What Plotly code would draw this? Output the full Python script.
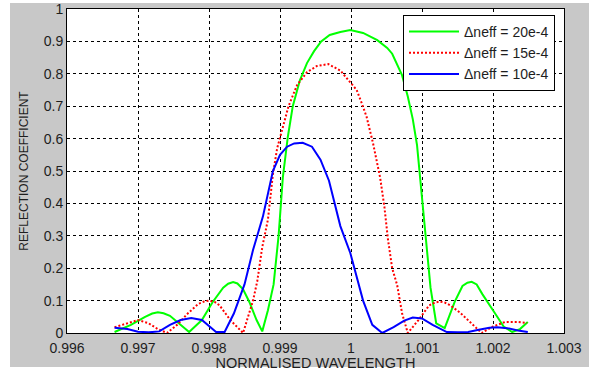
import plotly.graph_objects as go

# Normalised wavelength / reflection coefficient samples for three index modulations
wl_20 = [0.99667, 0.99690, 0.99710, 0.99720, 0.99728, 0.99736, 0.99745, 0.99760,
         0.99772, 0.99790, 0.99805, 0.99820, 0.99827, 0.99834, 0.99840, 0.99848,
         0.99857, 0.99867, 0.99875, 0.99883, 0.99891, 0.99898, 0.99904, 0.99911,
         0.99918, 0.99928, 0.99938, 0.99948, 0.99958, 0.99970, 0.99985, 0.99999,
         1.00017, 1.00037, 1.00051, 1.00058, 1.00065, 1.00072, 1.00080, 1.00087,
         1.00093, 1.00097, 1.00101, 1.00105, 1.00112, 1.00120, 1.00132, 1.00146,
         1.00157, 1.00164, 1.00170, 1.00177, 1.00185, 1.00200, 1.00215, 1.00227,
         1.00238, 1.00249]
r_20 = [0.003, 0.025, 0.050, 0.060, 0.064, 0.061, 0.053, 0.025,
        0.003, 0.040, 0.095, 0.140, 0.152, 0.157, 0.153, 0.135,
        0.095, 0.040, 0.005, 0.070, 0.150, 0.300, 0.480, 0.605,
        0.700, 0.780, 0.833, 0.870, 0.900, 0.920, 0.929, 0.935,
        0.926, 0.904, 0.880, 0.862, 0.830, 0.795, 0.730, 0.660,
        0.580, 0.490, 0.390, 0.290, 0.140, 0.030, 0.015, 0.096,
        0.145, 0.155, 0.158, 0.150, 0.120, 0.070, 0.020, 0.003,
        0.012, 0.034]

wl_15 = [0.99667, 0.99685, 0.99700, 0.99715, 0.99728, 0.99741, 0.99755, 0.99770,
         0.99785, 0.99793, 0.99800, 0.99808, 0.99815, 0.99830, 0.99848, 0.99855,
         0.99862, 0.99868, 0.99875, 0.99883, 0.99890, 0.99896, 0.99903, 0.99912,
         0.99924, 0.99938, 0.99952, 0.99968, 0.99985, 0.99994, 1.00002, 1.00008,
         1.00015, 1.00022, 1.00031, 1.00041, 1.00047, 1.00052, 1.00058, 1.00065,
         1.00072, 1.00080, 1.00095, 1.00110, 1.00118, 1.00125, 1.00132, 1.00140,
         1.00154, 1.00172, 1.00184, 1.00200, 1.00217, 1.00235, 1.00248]
r_15 = [0.018, 0.030, 0.040, 0.030, 0.012, 0.000, 0.025, 0.060,
        0.090, 0.097, 0.100, 0.096, 0.085, 0.040, 0.000, 0.050,
        0.100, 0.160, 0.265, 0.350, 0.490, 0.570, 0.630, 0.700,
        0.765, 0.805, 0.824, 0.830, 0.810, 0.787, 0.765, 0.750,
        0.710, 0.667, 0.586, 0.480, 0.390, 0.290, 0.200, 0.148,
        0.060, 0.000, 0.040, 0.085, 0.094, 0.097, 0.094, 0.085,
        0.062, 0.025, 0.000, 0.020, 0.034, 0.034, 0.031]

wl_10 = [0.99667, 0.99685, 0.99700, 0.99715, 0.99730, 0.99745, 0.99760, 0.99775,
         0.99790, 0.99800, 0.99810, 0.99822, 0.99835, 0.99850, 0.99862, 0.99876,
         0.99890, 0.99900, 0.99910, 0.99920, 0.99932, 0.99945, 0.99957, 0.99969,
         0.99985, 0.99999, 1.00008, 1.00017, 1.00030, 1.00044, 1.00060, 1.00075,
         1.00087, 1.00100, 1.00115, 1.00135, 1.00150, 1.00165, 1.00180, 1.00195,
         1.00206, 1.00220, 1.00235, 1.00249]
r_10 = [0.016, 0.012, 0.004, 0.002, 0.005, 0.025, 0.040, 0.046,
        0.040, 0.020, 0.003, 0.003, 0.060, 0.150, 0.256, 0.360,
        0.500, 0.550, 0.575, 0.585, 0.587, 0.575, 0.535, 0.470,
        0.330, 0.247, 0.170, 0.100, 0.025, 0.000, 0.018, 0.038,
        0.048, 0.045, 0.025, 0.003, 0.002, 0.003, 0.010, 0.016,
        0.018, 0.015, 0.008, 0.003]

names = ["\u0394neff = 20e-4", "\u0394neff = 15e-4", "\u0394neff = 10e-4"]

x_ticks = [0.996, 0.997, 0.998, 0.999, 1.0, 1.001, 1.002, 1.003]
x_labels = ["0.996", "0.997", "0.998", "0.999", "1", "1.001", "1.002", "1.003"]
y_ticks = [0, 0.1, 0.2, 0.3, 0.4, 0.5, 0.6, 0.7, 0.8, 0.9, 1.0]
y_labels = ["0", "0.1", "0.2", "0.3", "0.4", "0.5", "0.6", "0.7", "0.8", "0.9", "1"]

FONT = "Liberation Sans, Arial, sans-serif"
TXT = "#1e1e1e"

fig = go.Figure()
fig.add_trace(go.Scatter(x=wl_20, y=r_20, mode="lines", name=names[0],
                         line=dict(color="#00ff00", width=2)))
fig.add_trace(go.Scatter(x=wl_15, y=r_15, mode="lines", name=names[1],
                         line=dict(color="#ff0000", width=2, dash="2px,2px")))
fig.add_trace(go.Scatter(x=wl_10, y=r_10, mode="lines", name=names[2],
                         line=dict(color="#0000ff", width=2)))

# plot area: x 67..564 px, y 9..333 px
L, R, T, B = 67, 564, 9, 333
W, H = R - L, B - T

def px_x(p):
    return (p - L) / W

def px_y(p):
    return (B - p) / H

# grey figure panel, then white axes area on top of it
fig.add_shape(type="rect", xref="paper", yref="paper",
              x0=px_x(10), x1=px_x(589), y0=px_y(367), y1=px_y(3),
              fillcolor="#c8c8c8", line=dict(width=0), layer="below")
fig.add_shape(type="rect", xref="paper", yref="paper",
              x0=0, x1=1, y0=0, y1=1,
              fillcolor="white", line=dict(width=0), layer="below")

axis_common = dict(showgrid=True, gridcolor="black", gridwidth=1, griddash="3px,3px",
                   showline=True, linecolor="black", linewidth=1, mirror=True,
                   zeroline=False, ticks="", tickfont=dict(family=FONT, size=14, color=TXT))

fig.update_xaxes(range=[0.996, 1.003], tickvals=x_ticks, ticktext=x_labels,
                 ticklabelstandoff=2,
                 title=dict(text="NORMALISED WAVELENGTH", standoff=5,
                            font=dict(family=FONT, size=14.5, color=TXT)),
                 **axis_common)
fig.update_yaxes(range=[0, 1], tickvals=y_ticks, ticktext=y_labels,
                 title=dict(text="REFLECTION COEFFICIENT", standoff=12,
                            font=dict(family=FONT, size=12, color=TXT)),
                 **axis_common)

fig.update_layout(
    width=606, height=371,
    margin=dict(l=L, r=606 - R, t=T, b=371 - B, autoexpand=False),
    paper_bgcolor="white", plot_bgcolor="white",
    font=dict(family=FONT, size=12, color=TXT),
    showlegend=True,
    legend=dict(x=px_x(403), y=px_y(15), xanchor="left", yanchor="top",
                bgcolor="white", bordercolor="black", borderwidth=1,
                font=dict(family=FONT, size=14, color=TXT),
                tracegroupgap=0, itemwidth=50),
)

fig.write_html("out.html")
